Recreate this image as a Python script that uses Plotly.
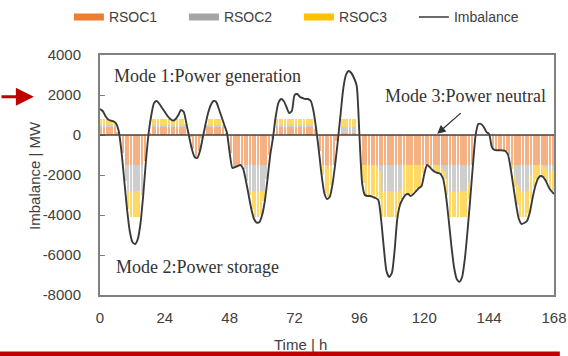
import plotly.graph_objects as go

# ---------------- data ----------------
hours_line = list(range(169))
imbalance = [
    1300, 1200, 950, 780, 720, 680, 560, 150, -900, -2300, -3700, -4800,
    -5350, -5450, -5200, -4400, -3000, -1300, 100, 1000, 1600, 1700, 1550, 1350,
    1150, 950, 800, 720, 800, 1000, 1250, 1150, 550, -100, -700, -1100,
    -1150, -800, -150, 500, 1100, 1500, 1700, 1650, 1300, 900, 500, 100,
    -900, -1650, -1600, -1550, -1500, -1700, -2300, -3000, -3700, -4200, -4380, -4350,
    -4000, -3300, -2200, -1000, -150, 900, 1600, 1800, 1700, 1400, 1100, 1200,
    2000, 2050, 1900, 1850, 1800, 1800, 1700, 1200, 300, -800, -2000, -2900,
    -3200, -3100, -2500, -1500, -300, 1000, 2300, 3000, 3200, 3100, 2850, 2450,
    0, -2400, -3000, -3050, -3050, -3100, -3150, -3250, -4200, -5600, -6800, -7100,
    -6900, -5800, -4200, -3500, -3200, -3000, -2950, -3050, -2950, -2800, -2650, -2550,
    -1950, -1500, -1600, -1750, -1850, -1900, -1950, -2200, -3000, -4200, -5500, -6600,
    -7200, -7340, -7100, -6200, -4800, -3200, -1500, 0, 550, 550, 400, 150,
    50, -600, -750, -760, -760, -770, -800, -1000, -1700, -2600, -3500, -4200,
    -4450, -4400, -4300, -3900, -3200, -2600, -2200, -2050, -2100, -2300, -2600, -2800,
    -2950,
]

hours_bar = list(range(168))
rsoc1 = [
    400, 400, 400, 400, 400, 400, 150, 0, -900, -1500, -1500, -1500,
    -1500, -1500, -1500, -1500, -1300, 0, 100, 400, 400, 400, 400, 400,
    400, 400, 400, 400, 400, 400, 400, 400, 0, -100, -700, -1100,
    -800, -150, 0, 400, 400, 400, 400, 400, 400, 400, 100, 0,
    -900, -1500, -1500, -1500, -1500, -1500, -1500, -1500, -1500, -1500, -1500, -1500,
    -1500, -1500, -1000, -150, 0, 400, 400, 400, 400, 400, 400, 400,
    400, 400, 400, 400, 400, 400, 400, 300, 0, -800, -1500, -1500,
    -1500, -1500, -1500, -300, 0, 100, 100, 100, 100, 100, 100, 0,
    0, -1500, -1500, -1500, -1500, -1500, -1500, -1500, -1500, -1500, -1500, -1500,
    -1500, -1500, -1500, -1500, -1500, -1500, -1500, -1500, -1500, -1500, -1500, -1500,
    -1500, -1500, -1500, -1500, -1500, -1500, -1500, -1500, -1500, -1500, -1500, -1500,
    -1500, -1500, -1500, -1500, -1500, -1500, 0, 0, 0, 0, 0, 0,
    0, -600, -750, -760, -760, -770, -800, -1000, -1500, -1500, -1500, -1500,
    -1500, -1500, -1500, -1500, -1500, -1500, -1500, -1500, -1500, -1500, -1500, -1500,
]
rsoc2 = [
    100, 100, 100, 100, 100, 100, 0, 0, 0, -800, -1300, -1300,
    -1300, -1300, -1300, -1300, 0, 0, 0, 100, 100, 100, 100, 100,
    100, 100, 100, 100, 100, 100, 100, 100, 0, 0, 0, 0,
    0, 0, 0, 100, 100, 100, 100, 100, 100, 100, 0, 0,
    0, -100, -50, 0, 0, -200, -800, -1300, -1300, -1300, -1300, -1300,
    -1300, -700, 0, 0, 0, 100, 100, 100, 100, 100, 100, 100,
    100, 100, 100, 100, 100, 100, 100, 0, 0, 0, 0, 0,
    -200, 0, 0, 0, 0, 300, 300, 300, 300, 300, 300, 0,
    0, 0, 0, 0, 0, 0, -100, -300, -1300, -1300, -1300, -1300,
    -1300, -1300, -1300, -1200, 0, 0, 0, 0, 0, 0, 0, 0,
    0, 0, 0, 0, 0, -100, -150, -300, -700, -1300, -1300, -1300,
    -1300, -1300, -1300, -1300, -900, 0, 0, 0, 0, 0, 0, 0,
    0, 0, 0, 0, 0, 0, 0, 0, 0, -500, -1000, -1300,
    -1300, -1300, -1300, -500, 0, 0, 0, 0, -100, -200, -300, -300,
]
rsoc3 = [
    300, 300, 280, 220, 180, 60, 0, 0, 0, 0, -900, -1300,
    -1300, -1300, -1300, -200, 0, 0, 0, 300, 300, 300, 300, 300,
    300, 300, 220, 220, 300, 300, 300, 50, 0, 0, 0, 0,
    0, 0, 0, 0, 300, 300, 300, 300, 300, 0, 0, 0,
    0, 0, 0, 0, 0, 0, 0, -200, -900, -1300, -1300, -1200,
    -500, 0, 0, 0, 0, 300, 300, 300, 300, 300, 300, 300,
    300, 300, 300, 300, 300, 300, 300, 0, 0, 0, -500, -1400,
    -1400, -1000, 0, 0, 0, 400, 400, 400, 400, 400, 400, 0,
    0, -900, -1500, -1500, -1500, -1500, -1500, -1400, -1300, -1300, -1300, -1300,
    -1300, -1300, -700, -500, -1500, -1450, -1450, -1450, -1300, -1150, -1050, -400,
    0, 0, -100, -250, -350, -300, -300, -400, -800, -1300, -1300, -1300,
    -1300, -1300, -1300, -1300, -800, 0, 0, 0, 0, 0, 0, 0,
    0, 0, 0, 0, 0, 0, 0, 0, -200, -600, -1000, -1300,
    -1300, -1300, -1100, -1200, -1100, -700, -550, -550, -500, -600, -800, -1000,
]

x_ticks = [0, 24, 48, 72, 96, 120, 144, 168]
y_ticks = [4000, 2000, 0, -2000, -4000, -6000, -8000]
y_tick_text = ["4000", "2000", "0", "-2000", "-4000", "-6000", "-8000"]
series_names = ["RSOC1", "RSOC2", "RSOC3", "Imbalance"]

# ---------------- style ----------------
SANS = "Liberation Sans, Arial, sans-serif"
SERIF = "Liberation Serif, Times New Roman, serif"
TXT = "#404040"
solid = ["#ED7D31", "#A5A5A5", "#FFC000"]
faded = ["rgba(237,125,49,0.6)", "rgba(165,165,165,0.55)", "rgba(255,192,0,0.6)"]

L, R, T, B = 100, 1, 53, 61
W, H = 568, 356
PW, PH = W - L - R, H - T - B

def px(xp):
    return (xp - L) / PW

def py(yp):
    return (H - B - yp) / PH

fig = go.Figure()
for vals, col in zip([rsoc1, rsoc2, rsoc3], faded):
    fig.add_trace(go.Bar(x=hours_bar, y=vals, marker=dict(color=col, line=dict(width=0)),
                         width=0.8, offset=0.1, showlegend=False, hoverinfo="skip"))

fig.add_trace(go.Scatter(x=hours_line, y=imbalance, mode="lines",
                         line=dict(color="#3a3a3a", width=1.9, shape="spline", smoothing=0.6),
                         showlegend=False))

# legend entries (solid colours, wide swatches)
for name, col in zip(series_names[:3], solid):
    fig.add_trace(go.Scatter(x=[None], y=[None], mode="lines", name=name,
                             line=dict(color=col, width=7)))
fig.add_trace(go.Scatter(x=[None], y=[None], mode="lines", name=series_names[3],
                         line=dict(color="#3a3a3a", width=1.5)))

fig.update_layout(
    width=W, height=H,
    margin=dict(l=L, r=R, t=T, b=B, pad=0),
    paper_bgcolor="white", plot_bgcolor="white",
    barmode="relative", bargap=0,
    font=dict(family=SANS, size=15, color=TXT),
    legend=dict(orientation="h", x=px(68), y=py(15), xanchor="left", yanchor="middle",
                font=dict(size=14, color=TXT), entrywidth=70, entrywidthmode="pixels",
                bgcolor="rgba(0,0,0,0)", itemsizing="trace", tracegroupgap=0),
    showlegend=True,
)
fig.update_xaxes(range=[0, 168], tickvals=x_ticks, showgrid=False, zeroline=False,
                 showline=True, linecolor="#808080", linewidth=2, mirror=True,
                 ticks="", ticklabelstandoff=8, ticklabeloverflow="allow",
                 tickfont=dict(size=15, color=TXT))
fig.update_yaxes(range=[-8000, 4000], tickvals=y_ticks, ticktext=y_tick_text,
                 showgrid=False, zeroline=False,
                 showline=True, linecolor="#808080", linewidth=2, mirror=True,
                 ticks="inside", ticklen=5, tickcolor="#808080",
                 ticklabelstandoff=14, tickfont=dict(size=15, color=TXT))

# zero line on top
fig.add_shape(type="line", xref="paper", x0=0, x1=1, yref="y", y0=0, y1=0,
              line=dict(color="#4a3f3a", width=1.6), layer="above")
# red rule at the bottom edge
fig.add_shape(type="rect", xref="paper", x0=px(-5), x1=px(W + 5), yref="paper",
              y0=py(H + 3), y1=py(H - 4), fillcolor="#C00000", line=dict(width=0), layer="above")

ann = [
    dict(text="Mode 1:Power generation", x=4.3, y=2960, xanchor="left", yanchor="middle"),
    dict(text="Mode 2:Power storage", x=5.0, y=-6620, xanchor="left", yanchor="middle"),
    dict(text="Mode 3:Power neutral", x=165.8, y=1975, xanchor="right", yanchor="middle"),
]
for a in ann:
    fig.add_annotation(xref="x", yref="y", showarrow=False,
                       font=dict(family=SERIF, size=18, color="#333333"), **a)

# arrow to the zero line (Mode 3)
fig.add_annotation(xref="x", yref="y", x=124.8, y=60, text="", showarrow=True,
                   ax=25, ay=-22, arrowhead=2, arrowsize=1.3, arrowwidth=1.3,
                   arrowcolor="#333333")
# red arrow on the left
fig.add_annotation(xref="paper", yref="paper", x=px(32), y=py(95), text="", showarrow=True,
                   ax=-34, ay=0, arrowhead=2, arrowsize=1.2, arrowwidth=3,
                   arrowcolor="#C00000")
# axis titles
fig.add_annotation(xref="paper", yref="paper", x=px(306), y=py(345), text="Time | h",
                   showarrow=False, xanchor="center", yanchor="middle",
                   font=dict(family=SANS, size=15, color=TXT))
fig.add_annotation(xref="paper", yref="paper", x=px(32), y=py(174), text="Imbalance | MW",
                   showarrow=False, xanchor="center", yanchor="middle", textangle=-90,
                   font=dict(family=SANS, size=15, color=TXT))

fig.write_html("out.html")
